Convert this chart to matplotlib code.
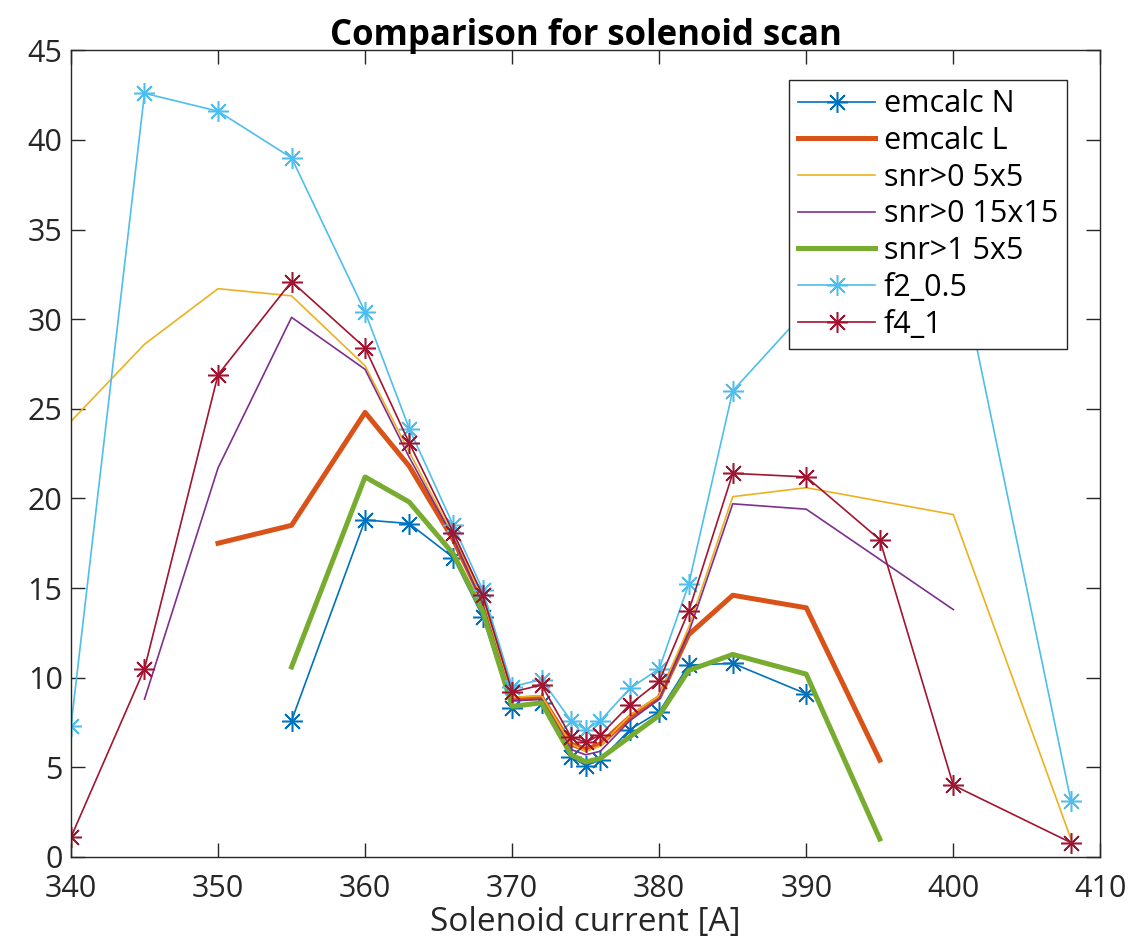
import numpy as np
import matplotlib
matplotlib.use("Agg")
import matplotlib.pyplot as plt

# solenoid current [A]
current = [340, 345, 350, 355, 360, 363, 366, 368, 370, 372, 374, 375, 376,
           378, 380, 382, 385, 390, 395, 400, 408]
nan = np.nan

emcalc_n = [nan, nan, nan, 7.6, 18.8, 18.6, 16.7, 13.4, 8.3, 8.6, 5.6, 5.1, 5.4,
            7.1, 8.1, 10.7, 10.8, 9.1, nan, nan, nan]
emcalc_l = [nan, nan, 17.5, 18.5, 24.8, 21.8, 17.7, 14.3, 8.8, 8.9, 6.3, 6.0, 6.3,
            7.8, 8.9, 12.4, 14.6, 13.9, 5.4, nan, nan]
snr0_5x5 = [24.3, 28.6, 31.7, 31.3, 27.4, 22.6, 17.9, 14.4, 8.9, 9.0, 6.3, 5.9, 6.2,
            7.9, 9.0, 12.8, 20.1, 20.6, nan, 19.1, 1.0]
snr0_15x15 = [nan, 8.8, 21.7, 30.1, 27.2, 22.3, 17.8, 14.1, 8.7, 8.8, 6.0, 5.7, 5.9,
              7.6, 8.8, 12.5, 19.7, 19.4, nan, 13.8, nan]
snr1_5x5 = [nan, nan, nan, 10.6, 21.2, 19.8, 16.9, 13.7, 8.4, 8.6, 5.7, 5.3, 5.5,
            6.7, 7.9, 10.4, 11.3, 10.2, 1.0, nan, nan]
f2_05 = [7.3, 42.6, 41.6, 39.0, 30.4, 23.9, 18.5, 14.9, 9.5, 9.9, 7.6, 7.1, 7.6,
         9.4, 10.5, 15.2, 26.0, 30.5, nan, 34.7, 3.1]
f4_1 = [1.1, 10.5, 26.9, 32.1, 28.4, 23.1, 18.1, 14.6, 9.2, 9.6, 6.7, 6.4, 6.8,
        8.5, 9.8, 13.7, 21.4, 21.2, 17.7, 4.0, 0.8]


def pts(y):
    # drop missing points so each series is drawn as one connected line
    x = np.array(current, dtype=float)
    y = np.array(y, dtype=float)
    ok = ~np.isnan(y)
    return x[ok], y[ok]


def main():
    plt.rcParams["font.family"] = ["Open Sans", "DejaVu Sans"]
    fig = plt.figure(figsize=(11.30, 9.48), dpi=100)
    ax = fig.add_axes([0.0628, 0.096, 0.911, 0.851])

    star = (8, 2, 0)
    ax.plot(*pts(emcalc_n), color="#0072BD", lw=1.2, marker=star, ms=15, mew=1.1,
            label="emcalc N")
    ax.plot(*pts(emcalc_l), color="#D95319", lw=3.6, label="emcalc L")
    ax.plot(*pts(snr0_5x5), color="#EDB120", lw=1.2, label="snr>0 5x5")
    ax.plot(*pts(snr0_15x15), color="#7E2F8E", lw=1.2, label="snr>0 15x15")
    ax.plot(*pts(snr1_5x5), color="#77AC30", lw=3.6, label="snr>1 5x5")
    ax.plot(*pts(f2_05), color="#4DBEEE", lw=1.2, marker=star, ms=15, mew=1.1,
            label="f2_0.5")
    ax.plot(*pts(f4_1), color="#A2142F", lw=1.2, marker=star, ms=15, mew=1.1,
            label="f4_1")

    ax.set_xlim(340, 410)
    ax.set_ylim(0, 45)
    ax.set_xticks(range(340, 411, 10))
    ax.set_yticks(range(0, 46, 5))
    ax.tick_params(direction="in", top=True, right=True, length=10, width=1,
                   labelsize=22, colors="#262626")
    ax.tick_params(axis="x", pad=12)
    ax.tick_params(axis="y", pad=6)
    for s in ax.spines.values():
        s.set_color("#262626")
        s.set_linewidth(1.0)

    ax.set_xlabel("Solenoid current [A]", fontsize=24, color="#262626", labelpad=2)
    ax.set_title("Comparison for solenoid scan", fontsize=25, fontweight="bold", pad=4)

    leg = ax.legend(loc="upper right", bbox_to_anchor=(0.968, 0.963), fontsize=22,
                    fancybox=False, framealpha=1, edgecolor="#262626",
                    handlelength=2.5, labelspacing=0.22, borderpad=0.3,
                    handletextpad=0.3, borderaxespad=0)
    leg.get_frame().set_linewidth(1.0)

    fig.savefig("out.png", dpi=100)


if __name__ == "__main__":
    main()
